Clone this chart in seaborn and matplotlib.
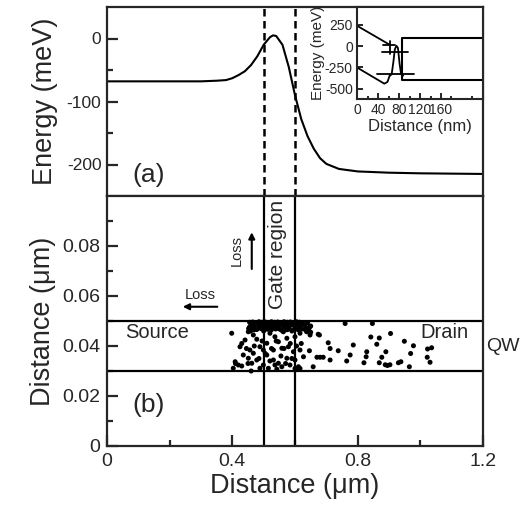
import matplotlib
matplotlib.use("Agg")
import matplotlib.pyplot as plt
import seaborn as sns
import pandas as pd

# ---- data ----
# (a) energy profile along the channel
curve_x = [0.0, 0.1, 0.2, 0.3, 0.35, 0.38, 0.40, 0.42, 0.44, 0.46, 0.48, 0.50,
           0.52, 0.53, 0.54, 0.56, 0.58, 0.60, 0.62, 0.64, 0.66, 0.68, 0.70,
           0.74, 0.80, 0.90, 1.00, 1.20]
curve_e = [-68, -68, -68, -68, -67, -66, -63, -58, -52, -42, -28, -10,
           2, 5, 4, -10, -45, -90, -128, -155, -175, -190, -199,
           -207, -211, -213, -214, -215]

# inset band diagram (nm, meV)
inset_upper_x = [0, 60]
inset_upper_e = [240, 25]
inset_lower_x = [0, 52, 58, 62]
inset_lower_e = [-250, -440, -420, -350]
inset_peak_x = [62, 66, 69, 72, 75, 78, 81, 84, 88]
inset_peak_e = [-350, -330, -200, -40, 5, -20, -200, -330, -345]
inset_step_x = [240, 86, 86, 240]
inset_step_e = [95, 95, -393, -393]
inset_levels = [(50, 72, 15), (48, 98, -70), (38, 108, -330)]

# (b) electron positions (um, um)
pts_x = [
    # dense band under the top of the QW
    0.455, 0.465, 0.475, 0.485, 0.495, 0.505, 0.515, 0.525, 0.535, 0.545,
    0.555, 0.565, 0.575, 0.585, 0.595, 0.605, 0.615, 0.625, 0.64,
    0.46, 0.47, 0.48, 0.49, 0.50, 0.51, 0.52, 0.53, 0.54, 0.55, 0.56,
    0.57, 0.58, 0.59, 0.60, 0.61, 0.62, 0.63,
    0.455, 0.47, 0.485, 0.50, 0.52, 0.535, 0.55, 0.565, 0.58, 0.60, 0.615,
    0.635, 0.65,
    0.452, 0.458, 0.548, 0.56, 0.575, 0.64, 0.645, 0.65, 0.47, 0.50,
    0.525, 0.59, 0.61,
    0.462, 0.478, 0.492, 0.512, 0.538, 0.553, 0.582, 0.598, 0.622, 0.632,
    # cluster around the gate
    0.451, 0.467, 0.4405, 0.478, 0.520, 0.536, 0.563, 0.547, 0.574, 0.600,
    0.616, 0.637, 0.648, 0.510, 0.488, 0.4245, 0.456, 0.467, 0.499, 0.531,
    0.558, 0.579, 0.595, 0.616, 0.435, 0.451, 0.478, 0.510, 0.531, 0.547,
    0.574, 0.600, 0.627, 0.409, 0.462, 0.499, 0.536, 0.558, 0.584, 0.611,
    0.403, 0.419, 0.515, 0.542, 0.488, 0.611,
    0.43, 0.445, 0.47, 0.485, 0.495, 0.505, 0.525, 0.54, 0.555, 0.565,
    0.585, 0.59, 0.605, 0.62, 0.45, 0.43, 0.46, 0.52, 0.57, 0.60,
    # sparse tail toward the drain
    0.398, 0.648, 0.674, 0.678, 0.706, 0.712, 0.738, 0.646, 0.67, 0.68,
    0.69, 0.712, 0.658, 0.616, 0.41, 0.76, 0.786, 0.776, 0.765, 0.847,
    0.905, 0.869, 0.842, 0.949, 0.978, 0.861, 1.036, 1.023, 0.829, 0.89,
    0.969, 0.827, 1.022, 0.877, 0.82, 0.869, 0.888, 0.895, 0.903, 0.93,
    0.938, 1.031, 0.965,
]
pts_y = [
    0.0495, 0.0496, 0.0494, 0.0497, 0.0495, 0.0496, 0.0494, 0.0497, 0.0495, 0.0496,
    0.0494, 0.0497, 0.0495, 0.0496, 0.0494, 0.0497, 0.0495, 0.0494, 0.0493,
    0.0486, 0.0485, 0.0487, 0.0484, 0.0486, 0.0485, 0.0487, 0.0484, 0.0486, 0.0485,
    0.0487, 0.0484, 0.0486, 0.0485, 0.0487, 0.0484, 0.0486, 0.0485,
    0.0476, 0.0474, 0.0477, 0.0475, 0.0476, 0.0474, 0.0477, 0.0475, 0.0476, 0.0474,
    0.0477, 0.0475, 0.0480,
    0.047, 0.046, 0.047, 0.046, 0.0465, 0.047, 0.046, 0.0455, 0.0465, 0.046,
    0.0465, 0.046, 0.0465,
    0.0468, 0.0466, 0.0469, 0.0467, 0.0468, 0.0466, 0.0469, 0.0467, 0.0468, 0.0466,
    0.0457, 0.0444, 0.0424, 0.0427, 0.0451, 0.0437, 0.0457, 0.0417, 0.0431, 0.0437,
    0.0451, 0.0457, 0.0444, 0.0411, 0.0397, 0.0397, 0.0384, 0.0371, 0.0384, 0.0384,
    0.0391, 0.0397, 0.0377, 0.0384, 0.0364, 0.0351, 0.0344, 0.0364, 0.0344, 0.0331,
    0.0351, 0.0344, 0.0357, 0.0337, 0.0331, 0.0324, 0.0324, 0.0317, 0.0324, 0.0317,
    0.0311, 0.0324, 0.0311, 0.0307, 0.0311, 0.0307,
    0.041, 0.039, 0.040, 0.035, 0.042, 0.037, 0.039, 0.042, 0.036, 0.039,
    0.041, 0.035, 0.040, 0.041, 0.033, 0.032, 0.030, 0.034, 0.033, 0.031,
    0.0451, 0.0477, 0.0447, 0.0444, 0.0413, 0.039, 0.0381, 0.0381, 0.0355, 0.0355,
    0.0355, 0.0344, 0.0317, 0.031, 0.033, 0.049, 0.0404, 0.0364, 0.034, 0.049,
    0.045, 0.0432, 0.0436, 0.0419, 0.0401, 0.0407, 0.0393, 0.0388, 0.0377, 0.0377,
    0.037, 0.0357, 0.0355, 0.0355, 0.0333, 0.0333, 0.0325, 0.0322, 0.0325, 0.0333,
    0.0337, 0.0335, 0.0317,
]

gate_x = [0.5, 0.6]
qw_y = [0.03, 0.05]

# ---- style ----
sns.set_style("ticks")
plt.rcParams['font.family'] = ['Liberation Sans', 'DejaVu Sans']
plt.rcParams['axes.unicode_minus'] = False
plt.rcParams['xtick.direction'] = 'in'
plt.rcParams['ytick.direction'] = 'in'
plt.rcParams['axes.linewidth'] = 1.6
plt.rcParams['xtick.major.width'] = 1.6
plt.rcParams['ytick.major.width'] = 1.6
plt.rcParams['xtick.minor.width'] = 1.6
plt.rcParams['ytick.minor.width'] = 1.6
plt.rcParams['xtick.major.size'] = 8
plt.rcParams['ytick.major.size'] = 8
plt.rcParams['xtick.minor.size'] = 4.5
plt.rcParams['ytick.minor.size'] = 4.5

fig = plt.figure(figsize=(5.31, 5.14), dpi=100)
L, R = 107 / 531, 483 / 531
ax_a = fig.add_axes([L, 1 - 196 / 514, R - L, (196 - 7) / 514])
ax_b = fig.add_axes([L, 1 - 446 / 514, R - L, (446 - 196) / 514])
ax_in = fig.add_axes([357 / 531, 1 - 99 / 514, R - 357 / 531, (99 - 7) / 514])

# ---- panel (a) ----
sns.lineplot(x=curve_x, y=curve_e, ax=ax_a, color='black', lw=1.5)
for gx in gate_x:
    ax_a.axvline(gx, color='black', lw=1.8, ls=(0, (3, 1.8)))
ax_a.set_xlim(0, 1.2)
ax_a.set_ylim(-250, 50)
ax_a.set_yticks([-200, -100, 0])
ax_a.set_yticks([-150, -50], minor=True)
ax_a.set_xticks([])
ax_a.tick_params(axis='y', labelsize=12.5, pad=4)
ax_a.set_ylabel('Energy (meV)', fontsize=19.5, labelpad=6)
ax_a.text(0.1325, -217, '(a)', fontsize=19, ha='center', va='center')

# inset
ax_in.plot(inset_upper_x, inset_upper_e, color='black', lw=1.3)
ax_in.plot(inset_lower_x, inset_lower_e, color='black', lw=1.3)
ax_in.plot(inset_peak_x, inset_peak_e, color='black', lw=1.3)
ax_in.plot(inset_step_x, inset_step_e, color='black', lw=1.5)
for x0, x1, e in inset_levels:
    ax_in.plot([x0, x1], [e, e], color='black', lw=1.3)
ax_in.plot([62, 62], [60, -90], color='black', lw=1.3)
ax_in.set_xlim(0, 240)
ax_in.set_ylim(-620, 460)
ax_in.set_xticks([0, 40, 80, 120, 160])
ax_in.set_xticks(range(20, 240, 40), minor=True)
ax_in.set_yticks([-500, -250, 0, 250])
ax_in.tick_params(labelsize=10, length=4, pad=3, width=1.4)
ax_in.tick_params(which='minor', length=2.5, width=1.4)
ax_in.set_xlabel('Distance (nm)', fontsize=12, labelpad=1)
ax_in.set_ylabel('Energy (meV)', fontsize=11, labelpad=0)
for s in ax_in.spines.values():
    s.set_linewidth(1.5)

# ---- panel (b) ----
df = pd.DataFrame({'x': pts_x, 'y': pts_y})
sns.scatterplot(data=df, x='x', y='y', ax=ax_b, color='black', s=13,
                edgecolor='none', zorder=3)
for gx in gate_x:
    ax_b.axvline(gx, color='black', lw=1.6)
for qy in qw_y:
    ax_b.axhline(qy, color='black', lw=1.6)
ax_b.set_xlim(0, 1.2)
ax_b.set_ylim(0, 0.1)
ax_b.set_xticks([0, 0.4, 0.8, 1.2])
ax_b.set_xticklabels(['0', '0.4', '0.8', '1.2'])
ax_b.set_xticks([0.2, 0.6, 1.0], minor=True)
ax_b.set_yticks([0, 0.02, 0.04, 0.06, 0.08])
ax_b.set_yticklabels(['0', '0.02', '0.04', '0.06', '0.08'])
ax_b.set_yticks([0.01, 0.03, 0.05, 0.07, 0.09], minor=True)
ax_b.tick_params(labelsize=14, pad=5)
ax_b.set_xlabel('Distance (\u03bcm)', fontsize=19.5, labelpad=2)
ax_b.set_ylabel('Distance (\u03bcm)', fontsize=19.5, labelpad=4)

ax_b.text(0.545, 0.0768, 'Gate region', rotation=90, fontsize=15,
          ha='center', va='center')
ax_b.text(0.16, 0.0452, 'Source', fontsize=14.5, ha='center', va='center')
ax_b.text(1.076, 0.0454, 'Drain', fontsize=14.5, ha='center', va='center')
ax_b.text(1.262, 0.0398, 'QW', fontsize=14, ha='center', va='center',
          clip_on=False)
ax_b.text(0.299, 0.0604, 'Loss', fontsize=10.5, ha='center', va='center')
ax_b.annotate('', xy=(0.233, 0.0557), xytext=(0.361, 0.0557),
              arrowprops=dict(arrowstyle='-|>', color='black', lw=1.5,
                              mutation_scale=9))
ax_b.text(0.414, 0.0784, 'Loss', fontsize=10.5, rotation=90,
          ha='center', va='center')
ax_b.annotate('', xy=(0.462, 0.0866), xytext=(0.462, 0.0697),
              arrowprops=dict(arrowstyle='-|>', color='black', lw=1.5,
                              mutation_scale=9))
ax_b.text(0.1325, 0.0164, '(b)', fontsize=19, ha='center', va='center')

fig.align_ylabels([ax_a, ax_b])
fig.savefig('out.png', dpi=100)
